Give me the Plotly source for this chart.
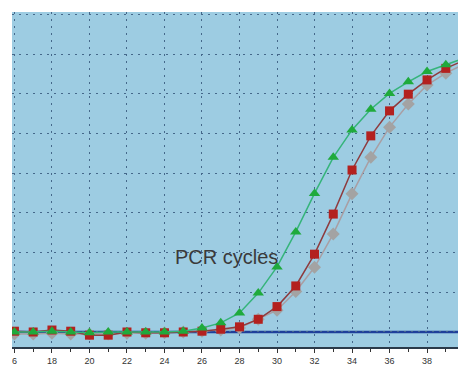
import plotly.graph_objects as go

cycles = list(range(16, 41))
green_vals = [0.0, 0.0, 0.02, 0.0, -0.02, 0.0, 0.0, 0.0, 0.0, 0.02, 0.1, 0.23, 0.48, 0.98, 1.64,
              2.52, 3.49, 4.40, 5.09, 5.61, 6.01, 6.30, 6.56, 6.73, 6.9]
red_vals = [0.02, 0.0, 0.05, 0.02, -0.08, -0.08, 0.0, -0.02, -0.02, 0.0, 0.02, 0.07, 0.13, 0.32, 0.64,
            1.16, 1.96, 2.97, 4.08, 4.94, 5.57, 5.99, 6.35, 6.64, 6.85]
grey_vals = [-0.05, -0.05, -0.03, -0.05, -0.05, -0.05, -0.03, -0.03, -0.02, 0.0, 0.02, 0.05, 0.1, 0.32, 0.55,
             1.02, 1.63, 2.47, 3.48, 4.40, 5.16, 5.74, 6.22, 6.52, 6.75]
tick_vals = [16, 18, 20, 22, 24, 26, 28, 30, 32, 34, 36, 38, 40]
tick_text = ["6", "18", "20", "22", "24", "26", "28", "30", "32", "34", "36", "38", "40"]
threshold = 0.0
annotation_text = "PCR cycles"

fig = go.Figure()
fig.add_trace(go.Scatter(x=cycles, y=grey_vals, mode="lines+markers",
                         line=dict(color="#a99ea3", width=1.5),
                         marker=dict(symbol="diamond", size=10, color="#a3a3a3",
                                     line=dict(width=0))))
fig.add_trace(go.Scatter(x=cycles, y=red_vals, mode="lines+markers",
                         line=dict(color="#8e3b3e", width=1.5),
                         marker=dict(symbol="square", size=9, color="#b3211f",
                                     line=dict(width=0))))
fig.add_trace(go.Scatter(x=cycles, y=green_vals, mode="lines+markers",
                         line=dict(color="#35b47a", width=1.5),
                         marker=dict(symbol="triangle-up", size=10, color="#1faa3c",
                                     line=dict(width=0))))

fig.add_shape(type="line", xref="paper", x0=0, x1=1, yref="y", y0=threshold, y1=threshold,
              line=dict(color="#1f3f9a", width=2.5), layer="below")

fig.add_annotation(x=27.28, y=1.9, xref="x", yref="y", text=annotation_text, showarrow=False,
                   font=dict(family="Liberation Sans, Arial, sans-serif", size=20, color="#3a3a3a"))

grid_dash = "2px,5px"
fig.update_layout(
    width=458, height=366,
    margin=dict(l=12, r=0, t=12, b=19, autoexpand=False),
    paper_bgcolor="white",
    plot_bgcolor="#9dcce2",
    showlegend=False,
    xaxis=dict(range=[15.87, 39.65], tickvals=tick_vals, ticktext=tick_text,
               automargin=False,
               showgrid=True, gridcolor="#45688a", griddash=grid_dash, gridwidth=1,
               ticks="outside", ticklen=4, tickcolor="#333", tickwidth=1,
               minor=dict(dtick=1, ticks="outside", ticklen=3, tickcolor="#333", showgrid=False),
               showline=True, linecolor="#2a3a4a", linewidth=1.5,
               tickfont=dict(family="Liberation Sans, Arial, sans-serif", size=9, color="#333"),
               zeroline=False),
    yaxis=dict(range=[-0.378, 8.06], dtick=1, tick0=0, showticklabels=False,
               automargin=False,
               showgrid=True, gridcolor="#45688a", griddash=grid_dash, gridwidth=1,
               zeroline=False, ticks=""),
)

fig.write_html("out.html",
               config={"displayModeBar": False},
               post_script="document.body.style.margin='0';document.body.style.overflow='hidden';")
